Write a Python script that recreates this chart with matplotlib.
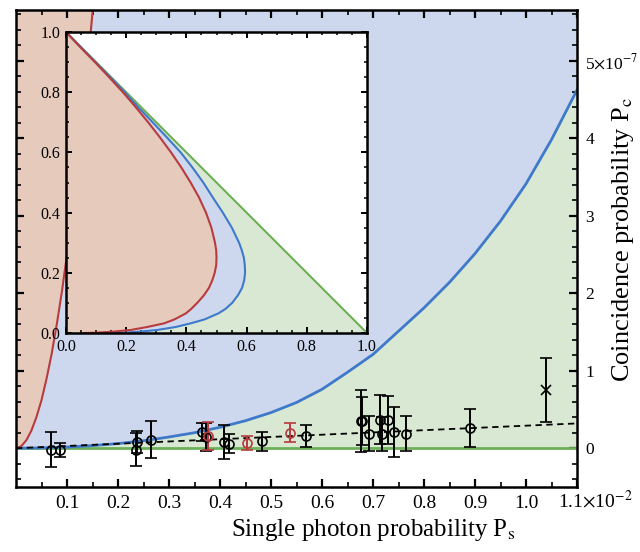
import matplotlib
matplotlib.use('Agg')
import matplotlib.pyplot as plt
import matplotlib.transforms as mtransforms
import numpy as np

plt.rcParams['font.family'] = ['Liberation Serif', 'DejaVu Serif']
plt.rcParams['mathtext.fontset'] = 'stix'

# colours
RED_FILL = '#e6cbbd'
BLUE_FILL = '#cdd8ee'
GREEN_FILL = '#d9e8d3'
RED = '#b83b3d'
BLUE = '#3f79c9'
GREEN = '#6cb05a'

# main panel: Ps in units of 1e-2, Pc in units of 1e-7
blue_ps = [0.0, 0.05, 0.1, 0.15, 0.2, 0.25, 0.3, 0.35, 0.4, 0.45, 0.5, 0.55,
           0.6, 0.65, 0.7, 0.75, 0.8, 0.85, 0.9, 0.95, 1.0, 1.05, 1.1]
blue_pc = [0.0, 0.004, 0.015, 0.034, 0.06, 0.096, 0.145, 0.2, 0.27, 0.355, 0.46, 0.59,
           0.76, 0.98, 1.21, 1.51, 1.81, 2.14, 2.51, 2.93, 3.41, 3.98, 4.62]

red_ps = [0.0, 0.01, 0.02, 0.03, 0.04, 0.05, 0.06, 0.07, 0.08, 0.09, 0.1,
          0.11, 0.12, 0.13, 0.14, 0.15, 0.155]
red_pc = [0.0, 0.025, 0.1, 0.225, 0.40, 0.62, 0.9, 1.22, 1.6, 2.02, 2.5,
          3.02, 3.6, 4.22, 4.9, 5.62, 6.0]

# linear fit through the measurements
fit_ps = [0.0, 1.1]
fit_pc = [0.0, 0.32]

# measured points (black)
meas_ps = [0.069, 0.086, 0.235, 0.238, 0.264, 0.364, 0.372, 0.407, 0.418, 0.482, 0.569,
           0.676, 0.678, 0.692, 0.714, 0.718, 0.730, 0.741, 0.764, 0.891]
meas_pc = [-0.02, -0.02, -0.02, 0.08, 0.11, 0.21, 0.15, 0.08, 0.06, 0.09, 0.16,
           0.35, 0.35, 0.19, 0.37, 0.18, 0.37, 0.21, 0.19, 0.255]
meas_err = [0.225, 0.09, 0.215, 0.14, 0.235, 0.12, 0.18, 0.22, 0.12, 0.12, 0.145,
            0.40, 0.31, 0.22, 0.32, 0.22, 0.31, 0.32, 0.22, 0.245]

# measured points (red)
red_meas_ps = [0.377, 0.452, 0.537]
red_meas_pc = [0.155, 0.07, 0.2]
red_meas_err = [0.18, 0.09, 0.125]

# outlier
out_ps = [1.04]
out_pc = [0.75]
out_err = [0.41]

x_ticks = [0.1, 0.2, 0.3, 0.4, 0.5, 0.6, 0.7, 0.8, 0.9, 1.0, 1.1]
x_labels = ['0.1', '0.2', '0.3', '0.4', '0.5', '0.6', '0.7', '0.8', '0.9', '1.0',
            '1.1$\\times$10$^{-2}$']
y_ticks = [0, 1, 2, 3, 4, 5]
y_labels = ['0', '1', '2', '3', '4', '5$\\times$10$^{-7}$']

# inset: boundaries as functions of y
inset_y = [1.0, 0.95, 0.9, 0.85, 0.8, 0.75, 0.7, 0.65, 0.6, 0.55, 0.5, 0.45, 0.4, 0.35,
           0.3, 0.275, 0.25, 0.225, 0.2, 0.175, 0.15, 0.125, 0.1, 0.08, 0.065, 0.045,
           0.032, 0.02, 0.01, 0.004, 0.001, 0.0]
inset_red_x = [0.0, 0.047, 0.096, 0.143, 0.189, 0.232, 0.273, 0.312, 0.349, 0.383, 0.414,
               0.442, 0.465, 0.483, 0.495, 0.499, 0.500, 0.499, 0.494, 0.486, 0.475, 0.458,
               0.436, 0.416, 0.398, 0.36, 0.326, 0.27, 0.215, 0.15, 0.10, 0.06]
inset_blue_x = [0.0, 0.049, 0.098, 0.147, 0.195, 0.240, 0.288, 0.335, 0.381, 0.420, 0.456,
                0.488, 0.521, 0.551, 0.575, 0.584, 0.591, 0.594, 0.595, 0.592, 0.585, 0.571,
                0.552, 0.53, 0.506, 0.46, 0.414, 0.365, 0.303, 0.24, 0.193, 0.15]
inset_ticks = [0.0, 0.2, 0.4, 0.6, 0.8, 1.0]

fig = plt.figure(figsize=(6.4, 5.52), dpi=100)
ax = fig.add_axes([16 / 640, 1 - 487 / 552, 561 / 640, 477 / 552])
ax.set_xlim(0, 1.1)
ax.set_ylim(-0.5, 5.652)

top = 6.0
ax.fill_between(blue_ps, 0, blue_pc, color=GREEN_FILL, lw=0)
ax.fill_between(blue_ps, blue_pc, top, color=BLUE_FILL, lw=0)
ax.fill(red_ps + [0.0], red_pc + [red_pc[-1]], color=RED_FILL, lw=0)

ax.axhline(0, color=GREEN, lw=2)
ax.plot(blue_ps, blue_pc, color=BLUE, lw=2)
ax.plot(red_ps, red_pc, color=RED, lw=1.5)
ax.plot(fit_ps, fit_pc, color='k', lw=1.3, ls=(0, (3.5, 2.5)))

eb = dict(capsize=4.5, elinewidth=1.4, capthick=1.4, ms=6.5, mew=1.2, mfc='none')
ax.errorbar(meas_ps, meas_pc, yerr=meas_err, fmt='o', color='k', **eb)
ax.errorbar(red_meas_ps, red_meas_pc, yerr=red_meas_err, fmt='o', color=RED, **eb)
ax.errorbar(out_ps, out_pc, yerr=out_err, fmt='x', color='k', **eb)

ax.set_xticks(x_ticks, x_labels)
ax.set_xticks(np.arange(0.05, 1.1, 0.1), minor=True)
ax.set_yticks(y_ticks, y_labels)
ax.set_yticks(np.arange(-0.4, 5.7, 0.2), minor=True)
ax.tick_params(which='both', direction='in', top=True, bottom=True, left=True, right=True,
               labelleft=False, labelright=True, colors='k')
ax.tick_params(which='major', length=6, width=1.6)
ax.tick_params(which='minor', length=3.5, width=1.2)
ax.tick_params(axis='x', pad=15, labelsize=14)
ax.tick_params(axis='y', pad=6, labelsize=12.5)
for s in ax.spines.values():
    s.set_linewidth(1.8)

for lab in ax.get_xticklabels():
    lab.set_va('baseline')
for lab in ax.get_yticklabels():
    lab.set_va('center_baseline')
last = ax.xaxis.get_major_ticks()[-1].label1
last.set_ha('left')
last.set_transform(last.get_transform() + mtransforms.ScaledTranslation(-0.19, 0, fig.dpi_scale_trans))

ax.set_xlabel('Single photon probability P$_\\mathrm{s}$', fontsize=18)
ax.xaxis.set_label_coords(0.636, -0.062)
ax.yaxis.set_label_position('right')
ax.set_ylabel('Coincidence probability P$_\\mathrm{c}$', fontsize=19)
ax.yaxis.set_label_coords(1.058, 0.52)

# inset
ins = fig.add_axes([66 / 640, 1 - 333 / 552, 301 / 640, 301 / 552])
ins.set_facecolor('white')
ins.set_xlim(0, 1)
ins.set_ylim(0, 1)
green_x = [1 - y for y in inset_y]
ins.fill_betweenx(inset_y, inset_blue_x, green_x, color=GREEN_FILL, lw=0)
ins.fill_betweenx(inset_y, inset_red_x, inset_blue_x, color=BLUE_FILL, lw=0)
ins.fill_betweenx(inset_y, 0, inset_red_x, color=RED_FILL, lw=0)
ins.plot(green_x, inset_y, color=GREEN, lw=1.5)
ins.plot(inset_blue_x, inset_y, color=BLUE, lw=1.5)
ins.plot(inset_red_x, inset_y, color=RED, lw=1.5)

ins.set_xticks(inset_ticks, ['%.1f' % t for t in inset_ticks])
ins.set_yticks(inset_ticks, ['%.1f' % t for t in inset_ticks])
ins.set_xticks(np.arange(0, 1.01, 0.05), minor=True)
ins.set_yticks(np.arange(0, 1.01, 0.05), minor=True)
ins.tick_params(which='both', direction='in', top=True, right=True, labelsize=11.5, pad=4)
ins.tick_params(which='major', length=4, width=1.4)
ins.tick_params(which='minor', length=2.5, width=1.1)
for s in ins.spines.values():
    s.set_linewidth(1.8)

fig.savefig('out.png', dpi=100, facecolor='white')
